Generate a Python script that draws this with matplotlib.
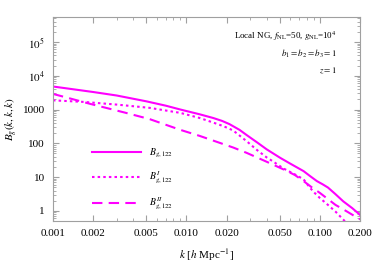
import matplotlib
matplotlib.use("Agg")
import matplotlib.pyplot as plt
from matplotlib.ticker import FixedLocator, FixedFormatter, LogLocator, NullFormatter

# data
k_full = [0.001, 0.002, 0.003, 0.005, 0.007, 0.009, 0.0126, 0.0159, 0.0185,
          0.021, 0.025, 0.0283, 0.034, 0.04, 0.0505, 0.06, 0.0755, 0.085,
          0.095, 0.105, 0.115, 0.13, 0.15, 0.175, 0.2]
b_full = [4800, 3300, 2600, 1750, 1300, 1000, 720, 560, 460,
          370, 250, 175, 105, 66, 37, 25, 15, 10.5,
          7.6, 6.1, 4.9, 3.2, 1.9, 1.2, 0.76]

k_one = [0.001, 0.0017, 0.003, 0.0053, 0.009, 0.0126, 0.0159, 0.019, 0.0224,
         0.0283, 0.034, 0.04, 0.0446, 0.0533, 0.065, 0.0755, 0.083, 0.09,
         0.1, 0.115, 0.131, 0.155]
b_one = [1870, 1680, 1400, 1120, 795, 560, 410, 320, 240,
         115, 62, 38, 29, 18, 12, 8.6, 5.2, 3.6,
         2.4, 1.5, 0.95, 0.48]

k_two = [0.001, 0.0019, 0.0035, 0.0053, 0.009, 0.0126, 0.0159, 0.0224, 0.0283,
         0.042, 0.055, 0.065, 0.0755, 0.088, 0.1, 0.131, 0.16, 0.2]
b_two = [2900, 1470, 800, 520, 250, 165, 120, 75, 52,
         26, 16, 11.5, 7.6, 4.8, 3.4, 1.5, 0.95, 0.56]

x_ticks = [0.001, 0.002, 0.005, 0.01, 0.02, 0.05, 0.1, 0.2]
x_labels = ["0.001", "0.002", "0.005", "0.010", "0.020", "0.050", "0.100", "0.200"]
y_ticks = [1, 10, 100, 1000, 1e4, 1e5]
y_labels = ["1", "10", "100", "1000", r"$10^4$", r"$10^5$"]

plt.rcParams["font.family"] = ["Liberation Serif", "DejaVu Serif"]
plt.rcParams["mathtext.fontset"] = "stix"

col = "#ff00ff"
frame = "#a0a0a0"

fig = plt.figure(figsize=(3.74, 2.65), dpi=100)
ax = fig.add_axes([0.1417, 0.166, 0.8209, 0.770])

ax.plot(k_full, b_full, color=col, lw=1.5, label=r"$B_{g,122}$")
ax.plot(k_one, b_one, color=col, lw=1.5, ls=(0, (1.2, 1.5)), label=r"$B^{I}_{g,122}$")
ax.plot(k_two, b_two, color=col, lw=1.5, ls=(0, (5, 3)), label=r"$B^{II}_{g,122}$")

ax.set_xscale("log")
ax.set_yscale("log")
ax.set_xlim(0.001, 0.2)
ax.set_ylim(0.5, 5.5e5)

ax.xaxis.set_major_locator(FixedLocator(x_ticks))
ax.xaxis.set_major_formatter(FixedFormatter(x_labels))
ax.xaxis.set_minor_locator(LogLocator(base=10, subs=range(1, 10), numticks=20))
ax.xaxis.set_minor_formatter(NullFormatter())
ax.yaxis.set_major_locator(FixedLocator(y_ticks))
ax.yaxis.set_major_formatter(FixedFormatter(y_labels))
ax.yaxis.set_minor_locator(LogLocator(base=10, subs=range(2, 10), numticks=20))
ax.yaxis.set_minor_formatter(NullFormatter())

ax.tick_params(which="both", direction="in", top=True, right=True,
               color=frame, labelsize=8)
ax.tick_params(which="major", length=4, width=0.8, pad=6)
ax.tick_params(which="minor", length=2, width=0.6)
for s in ax.spines.values():
    s.set_color(frame)
    s.set_linewidth(0.8)

ax.set_xlabel(r"$k$ [$h$ Mpc$^{-1}$]", fontsize=8, labelpad=6)
ax.set_ylabel(r"$B_g(k,k,k)$", fontsize=8, labelpad=2)

ax.text(0.925, 0.905, r"Local NG, $f_{\rm NL}$=50, $g_{\rm NL}$=10$^4$",
        transform=ax.transAxes, ha="right", va="center", fontsize=6.5)
ax.text(0.925, 0.82, r"$b_1 = b_2 = b_3 = 1$",
        transform=ax.transAxes, ha="right", va="center", fontsize=6.5)
ax.text(0.925, 0.735, r"$z = 1$",
        transform=ax.transAxes, ha="right", va="center", fontsize=6.5)

ax.legend(loc="lower left", bbox_to_anchor=(0.10, 0.0), frameon=False,
          fontsize=7, handlelength=5.0, labelspacing=1.0, handletextpad=0.8)

fig.savefig("out.png", dpi=100)
